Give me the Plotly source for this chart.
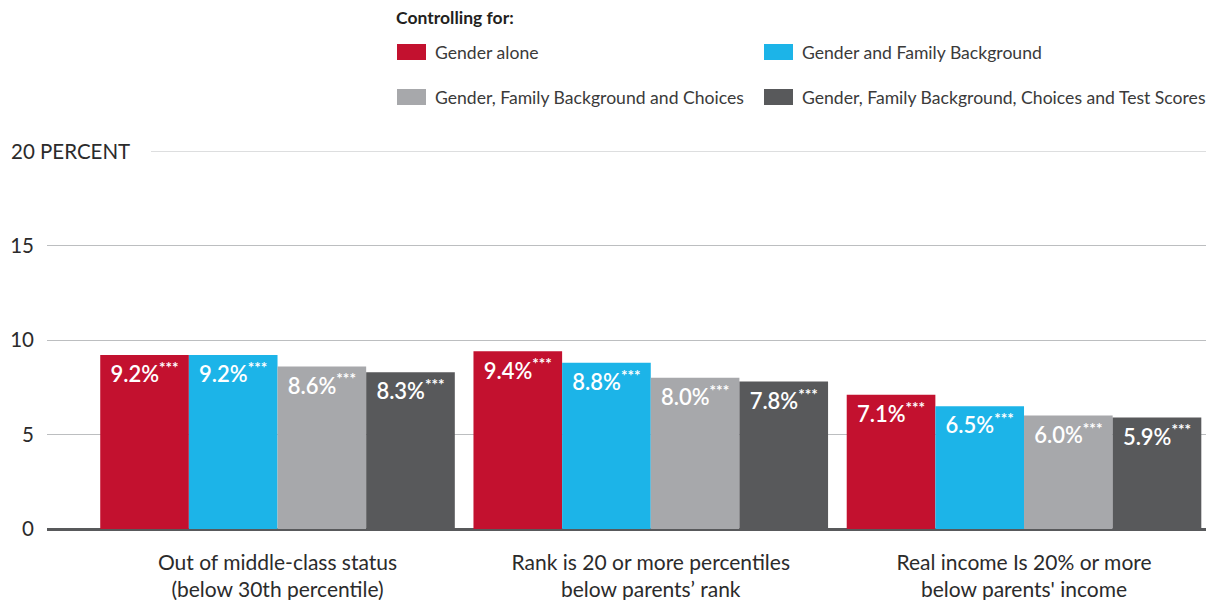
import plotly.graph_objects as go

categories = [
    "Out of middle-class status<br>(below 30th percentile)",
    "Rank is 20 or more percentiles<br>below parents’ rank",
    "Real income Is 20% or more<br>below parents' income",
]
series_names = [
    "Gender alone",
    "Gender and Family Background",
    "Gender, Family Background and Choices",
    "Gender, Family Background, Choices and Test Scores",
]
gender_alone = [9.2, 9.4, 7.1]
gender_family = [9.2, 8.8, 6.5]
gender_family_choices = [8.6, 8.0, 6.0]
gender_family_choices_tests = [8.3, 7.8, 5.9]
series_values = [gender_alone, gender_family, gender_family_choices, gender_family_choices_tests]
colors = ["#C3112F", "#1CB4E8", "#A7A8AB", "#58595B"]
y_ticks = [0, 5, 10, 15]
top_tick = 20
top_tick_label = "20 PERCENT"
legend_title = "Controlling for:"

FONT = "Lato"
TXT = "#2b2b2b"
OFF = 8  # page body margin offset

fig = go.Figure()
xs = list(range(len(categories)))
for name, vals, col in zip(series_names, series_values, colors):
    fig.add_trace(go.Bar(
        x=xs, y=vals, name=name, marker=dict(color=col, line=dict(width=0)),
        text=[f"{v:.1f}%<sup><b>***</b></sup>" for v in vals],
        textposition="inside", insidetextanchor="end", textangle=0,
        insidetextfont=dict(family=FONT, size=22, color="white", weight=600),
        constraintext="none", cliponaxis=False, showlegend=False,
    ))

# plot area (screen pixels): x 47..1214, y 151..529
W, X0 = 1167.0, 47.0
H, Y0 = 378.0, 529.0
def px(xp):
    return (xp - X0) / W
def py(yp):
    return (Y0 - yp) / H

shapes = []
annotations = []
shapes.append(dict(type="line", xref="paper", yref="y", x0=px(151), x1=1, y0=top_tick, y1=top_tick,
                   line=dict(color="#BCBEC0", width=1), layer="below"))
annotations.append(dict(xref="paper", yref="y", x=px(9), y=top_tick, text=top_tick_label,
                        xanchor="left", yanchor="middle", showarrow=False,
                        font=dict(family=FONT, size=20.5, color=TXT)))
annotations.append(dict(xref="paper", yref="paper", x=px(394), y=py(17), text="<b>" + legend_title + "</b>",
                        xanchor="left", yanchor="middle", showarrow=False,
                        font=dict(family=FONT, size=17.5, color="#231F20")))
pos = [(397, 52), (764, 52), (397, 97), (764, 97)]
for (lx, ly), name, col in zip(pos, series_names, colors):
    shapes.append(dict(type="rect", xref="paper", yref="paper", x0=px(lx), x1=px(lx + 29),
                       y0=py(ly + 8), y1=py(ly - 8), fillcolor=col, line=dict(width=0)))
    annotations.append(dict(xref="paper", yref="paper", x=px(lx + 36), y=py(ly), text=name,
                            xanchor="left", yanchor="middle", showarrow=False,
                            font=dict(family=FONT, size=17.6, color="#3a3a3a")))

fig.update_layout(
    width=1214 - OFF, height=600 - OFF,
    margin=dict(l=47 - OFF, r=0, t=151 - OFF, b=71, pad=0),
    paper_bgcolor="white", plot_bgcolor="white",
    barmode="group", bargap=0.05, bargroupgap=0,
    font=dict(family=FONT, color=TXT),
    shapes=shapes, annotations=annotations,
    xaxis=dict(range=[-0.6176, 2.509], tickvals=xs, ticktext=categories,
               showgrid=False, zeroline=False, showline=False, ticks="",
               ticklabelstandoff=19,
               tickfont=dict(family=FONT, size=21, color=TXT), fixedrange=True),
    yaxis=dict(range=[0, 20], tickvals=y_ticks, showgrid=True, gridcolor="#BCBEC0", gridwidth=1,
               zeroline=True, zerolinecolor="#58595B", zerolinewidth=3, showline=False, ticks="",
               ticklabelstandoff=12,
               tickfont=dict(family=FONT, size=20.5, color=TXT), fixedrange=True),
)
fig.write_html("out.html")
